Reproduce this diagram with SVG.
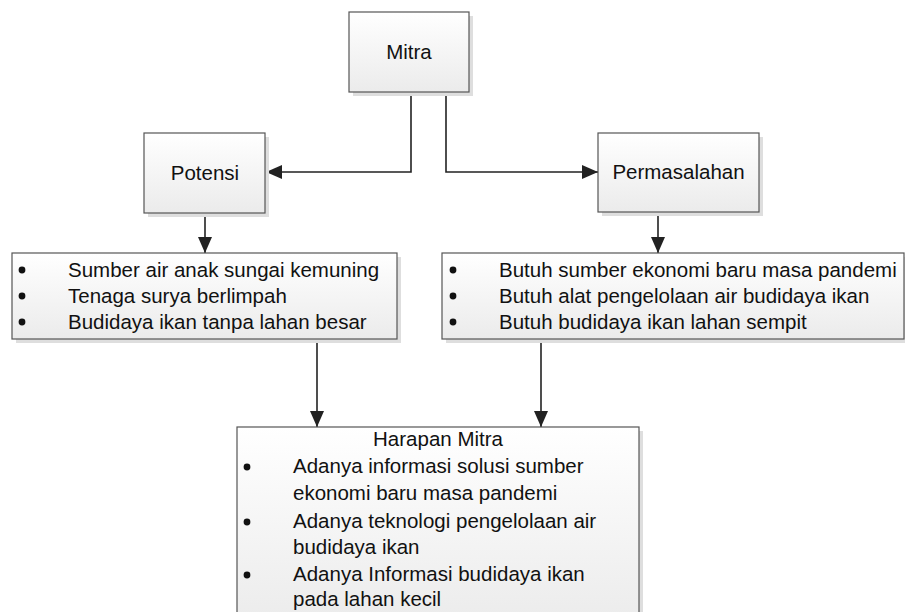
<svg xmlns="http://www.w3.org/2000/svg" width="905" height="612" viewBox="0 0 905 612">
<style>
.box{fill:url(#g);stroke:#555;stroke-width:1.2}
.sh{fill:#dedede}
.t{font-family:"Liberation Sans",Arial,sans-serif;font-size:20.5px;fill:#111}
.c{text-anchor:middle}
.b{fill:#111}
.ln{fill:none;stroke:#222;stroke-width:1.6}
</style>
<defs>
<linearGradient id="g" x1="0" y1="0" x2="0" y2="1">
<stop offset="0" stop-color="#ffffff"/>
<stop offset="1" stop-color="#ebebeb"/>
</linearGradient>
<marker id="ah" markerUnits="userSpaceOnUse" markerWidth="16" markerHeight="14" refX="16" refY="7" orient="auto">
<path d="M0,0 L16,7 L0,14 z" fill="#222"/>
</marker>
</defs>
<g id="connectors">
<polyline class="ln" points="411,92 411,172 266,172" marker-end="url(#ah)"/>
<polyline class="ln" points="446,92 446,172 598,172" marker-end="url(#ah)"/>
<line class="ln" x1="205" y1="213" x2="205" y2="253" marker-end="url(#ah)"/>
<line class="ln" x1="658" y1="212" x2="658" y2="253" marker-end="url(#ah)"/>
<line class="ln" x1="317" y1="339" x2="317" y2="427" marker-end="url(#ah)"/>
<line class="ln" x1="541" y1="339" x2="541" y2="427" marker-end="url(#ah)"/>
</g>
<g id="mitra">
<rect class="sh" x="353" y="16" width="120" height="80"/>
<rect class="box" x="349" y="12" width="120" height="80"/>
<text class="t c" x="409" y="59">Mitra</text>
</g>
<g id="potensi">
<rect class="sh" x="148" y="137" width="121" height="80"/>
<rect class="box" x="144" y="133" width="121" height="80"/>
<text class="t c" x="205" y="180">Potensi</text>
</g>
<g id="permasalahan">
<rect class="sh" x="602" y="137" width="161" height="79"/>
<rect class="box" x="598" y="133" width="161" height="79"/>
<text class="t c" x="678.5" y="179">Permasalahan</text>
</g>
<g id="list-potensi">
<rect class="sh" x="16" y="257" width="385" height="86"/>
<rect class="box" x="12" y="253" width="385" height="86"/>
<circle class="b" cx="22" cy="270" r="3.4"/>
<circle class="b" cx="22" cy="296" r="3.4"/>
<circle class="b" cx="22" cy="322" r="3.4"/>
<text class="t" x="68" y="277">Sumber air anak sungai kemuning</text>
<text class="t" x="68" y="303">Tenaga surya berlimpah</text>
<text class="t" x="68" y="329">Budidaya ikan tanpa lahan besar</text>
</g>
<g id="list-permasalahan">
<rect class="sh" x="446" y="257" width="462" height="86"/>
<rect class="box" x="442" y="253" width="462" height="86"/>
<circle class="b" cx="453" cy="270" r="3.4"/>
<circle class="b" cx="453" cy="296" r="3.4"/>
<circle class="b" cx="453" cy="322" r="3.4"/>
<text class="t" x="499" y="277">Butuh sumber ekonomi baru masa pandemi</text>
<text class="t" x="499" y="303">Butuh alat pengelolaan air budidaya ikan</text>
<text class="t" x="499" y="329">Butuh budidaya ikan lahan sempit</text>
</g>
<g id="harapan">
<rect class="sh" x="241" y="431" width="402" height="200"/>
<rect class="box" x="237" y="427" width="402" height="200"/>
<text class="t c" x="438" y="446">Harapan Mitra</text>
<circle class="b" cx="247" cy="467" r="3.4"/>
<circle class="b" cx="247" cy="522" r="3.4"/>
<circle class="b" cx="247" cy="575" r="3.4"/>
<text class="t" x="293" y="473">Adanya informasi solusi sumber</text>
<text class="t" x="293" y="500">ekonomi baru masa pandemi</text>
<text class="t" x="293" y="528">Adanya teknologi pengelolaan air</text>
<text class="t" x="293" y="554">budidaya ikan</text>
<text class="t" x="293" y="581">Adanya Informasi budidaya ikan</text>
<text class="t" x="293" y="606">pada lahan kecil</text>
</g>
</svg>
